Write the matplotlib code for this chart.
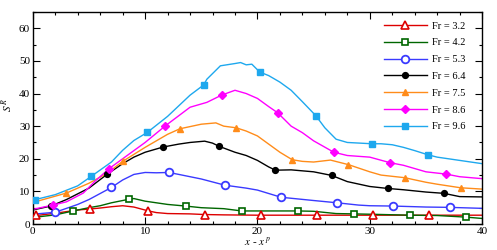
import matplotlib.pyplot as plt
from matplotlib.lines import Line2D
from matplotlib.ticker import MultipleLocator

plt.rcParams['font.family'] = ['Liberation Serif', 'DejaVu Serif']
plt.rcParams['mathtext.fontset'] = 'stix'

# line data (x - x^p, S^R) per Froude number
x_32 = [0, 0.3, 2, 4, 5.1, 6, 7, 8, 9, 10.3, 11, 12, 14, 15.3, 17, 20, 25, 30, 35, 40]
y_32 = [2.2, 2.6, 3.3, 4.3, 4.6, 4.9, 5.3, 5.6, 5.2, 4.0, 3.5, 3.2, 3.1, 2.9, 2.8, 2.7, 2.7, 2.7, 2.7, 2.7]

x_42 = [0, 2, 3.6, 5, 6, 7, 8, 8.6, 9, 10, 12, 13.6, 15, 17, 18.6, 20, 23.6, 25, 27, 28.6, 30, 33.6, 36, 38.6, 40]
y_42 = [2.0, 2.8, 4.0, 5.0, 5.6, 6.5, 7.2, 7.6, 7.8, 7.0, 6.0, 5.5, 5.0, 4.7, 4.0, 4.0, 4.0, 3.9, 3.2, 3.1, 3.0, 2.7, 2.6, 2.1, 1.7]

x_53 = [0, 2, 4, 5, 7, 8, 9, 10, 11, 12.1, 13, 15, 17.1, 19, 20, 22.1, 25, 27.1, 29, 30, 32.1, 35, 37.1, 40]
y_53 = [3.0, 3.6, 6.0, 7.5, 11.2, 13.5, 15.2, 15.8, 15.7, 15.8, 15.2, 13.8, 11.9, 11.0, 10.4, 8.2, 7.2, 6.5, 5.8, 5.6, 5.5, 5.2, 5.1, 4.8]

x_64 = [0, 1.6, 3, 5, 6.6, 8, 9, 10, 11, 11.6, 13, 14, 15.3, 16, 16.6, 18, 19, 20, 21, 21.6, 23, 25, 26.6, 28, 30, 31.6, 33, 35, 36.6, 38, 40]
y_64 = [4.3, 5.5, 7.5, 11.0, 15.2, 18.5, 20.5, 22.0, 23.0, 23.6, 24.5, 25.0, 25.4, 24.8, 23.8, 22.0, 21.0, 19.5, 17.5, 16.5, 16.6, 16.0, 14.9, 13.0, 11.5, 10.9, 10.5, 9.8, 9.4, 8.4, 8.3]

x_75 = [0, 3, 5, 6.6, 8, 10, 11, 12, 13.1, 15, 16.3, 17, 18.1, 19, 20, 21, 22, 23.1, 24, 25, 26.5, 28.1, 30, 31, 33.1, 35, 36, 38.1, 40]
y_75 = [6.6, 9.5, 12.5, 15.5, 19.2, 23.5, 25.5, 27.5, 29.2, 30.6, 31.0, 30.0, 29.5, 28.5, 27.0, 24.5, 22.0, 19.7, 19.2, 19.0, 19.6, 18.2, 16.0, 15.0, 14.2, 12.8, 12.2, 11.1, 10.7]

x_86 = [0, 1.8, 3, 4.5, 5.5, 6.8, 8, 10, 11.8, 14, 15.5, 16.8, 18, 19, 20, 21, 21.8, 23, 24, 25, 26.8, 28, 30, 31.8, 33, 35, 36.8, 38, 40]
y_86 = [4.5, 5.8, 6.8, 9.5, 13.0, 17.0, 20.0, 25.0, 30.1, 35.8, 37.3, 39.5, 41.0, 40.0, 38.5, 36.0, 34.1, 30.0, 28.0, 25.5, 22.0, 21.0, 20.5, 18.8, 18.0, 16.0, 15.3, 14.5, 13.9]

x_96 = [0, 2, 4, 5.2, 7, 8, 9, 10.2, 12, 14, 15.2, 15.5, 16.7, 18, 18.5, 19, 19.5, 20.2, 21, 22, 23, 24, 25.2, 26, 27, 28, 30.2, 31, 32, 33, 34, 35.2, 36, 38, 40]
y_96 = [7.3, 9.0, 11.7, 14.6, 19.0, 22.6, 25.6, 28.1, 33.0, 39.5, 42.6, 44.4, 48.5, 49.2, 49.5, 48.8, 49.0, 46.6, 45.5, 43.5, 41.0, 37.5, 33.2, 29.5, 26.0, 25.0, 24.6, 24.6, 24.3, 23.5, 22.5, 21.2, 20.5, 19.5, 18.5]

# marker positions (every 5 units, offset per series)
mx_32 = [0.3, 5.1, 10.3, 15.3, 20.3, 25.3, 30.3, 35.3]
my_32 = [2.8, 4.6, 4.0, 2.9, 2.7, 2.7, 2.7, 2.7]
mx_42 = [3.6, 8.6, 13.6, 18.6, 23.6, 28.6, 33.6, 38.6]
my_42 = [4.0, 7.6, 5.5, 4.0, 4.0, 3.1, 2.7, 2.1]
mx_53 = [2.0, 7.0, 12.1, 17.1, 22.1, 27.1, 32.1, 37.1]
my_53 = [3.6, 11.2, 15.8, 11.9, 8.2, 6.5, 5.5, 5.1]
mx_64 = [1.6, 6.6, 11.6, 16.6, 21.6, 26.6, 31.6, 36.6]
my_64 = [5.5, 15.2, 23.6, 23.8, 16.5, 14.9, 10.9, 9.4]
mx_75 = [3.0, 8.0, 13.1, 18.1, 23.1, 28.1, 33.1, 38.1]
my_75 = [9.5, 19.2, 29.2, 29.5, 19.7, 18.2, 14.2, 11.1]
mx_86 = [1.8, 6.8, 11.8, 16.8, 21.8, 26.8, 31.8, 36.8]
my_86 = [5.8, 17.0, 30.1, 39.5, 34.1, 22.0, 18.8, 15.3]
mx_96 = [0.2, 5.2, 10.2, 15.2, 20.2, 25.2, 30.2, 35.2]
my_96 = [7.3, 14.6, 28.1, 42.6, 46.6, 33.2, 24.6, 21.2]

labels = ["Fr = 3.2", "Fr = 4.2", "Fr = 5.3", "Fr = 6.4", "Fr = 7.5", "Fr = 8.6", "Fr = 9.6"]

series = [
    (x_32, y_32, mx_32, my_32, "#dd0000", "^", "white", 6, 1.2),
    (x_42, y_42, mx_42, my_42, "#006600", "s", "white", 4.5, 1.2),
    (x_53, y_53, mx_53, my_53, "#3a3aff", "o", "white", 5.5, 1.3),
    (x_64, y_64, mx_64, my_64, "black", "o", "black", 4.2, 1.0),
    (x_75, y_75, mx_75, my_75, "#ff8c1a", "^", "#ff8c1a", 4.5, 1.0),
    (x_86, y_86, mx_86, my_86, "#ff00ff", "D", "#ff00ff", 3.8, 1.0),
    (x_96, y_96, mx_96, my_96, "#1ea8ee", "s", "#1ea8ee", 4.2, 1.0),
]

fig = plt.figure(figsize=(4.97, 2.5), dpi=100)
ax = fig.add_axes([0.066, 0.104, 0.904, 0.848])

handles = []
for (x, y, mx, my, c, m, fc, ms, mew), lab in zip(series, labels):
    ax.plot(x, y, color=c, lw=1.0, zorder=2)
    ax.plot(mx, my, linestyle="none", marker=m, markersize=ms, markerfacecolor=fc,
            markeredgecolor=c, markeredgewidth=mew, zorder=3)
    handles.append(Line2D([], [], color=c, lw=1.0, marker=m, markersize=ms,
                          markerfacecolor=fc, markeredgecolor=c, markeredgewidth=mew))

ax.set_xlim(0, 40)
ax.set_ylim(0, 65)
ax.xaxis.set_major_locator(MultipleLocator(10))
ax.xaxis.set_minor_locator(MultipleLocator(2))
ax.yaxis.set_major_locator(MultipleLocator(10))
ax.yaxis.set_minor_locator(MultipleLocator(5))
ax.tick_params(which="both", direction="in", top=True, right=True, labelsize=8, width=0.8)
ax.tick_params(which="major", length=5, pad=2)
ax.tick_params(which="minor", length=2.5)
for s in ax.spines.values():
    s.set_linewidth(1.0)

ax.set_xlabel(r"$x$ - $x^{\,p}$", fontsize=8)
ax.xaxis.set_label_coords(0.5, -0.055)
ax.set_ylabel(r"$S^{\,R}$", fontsize=8)
ax.yaxis.set_label_coords(-0.04, 0.56)

ax.legend(handles, labels, loc="upper right", frameon=False, fontsize=7.5,
          handlelength=4.2, labelspacing=0.72, handletextpad=0.5,
          bbox_to_anchor=(0.985, 1.0))

fig.savefig("out.png", dpi=100)
